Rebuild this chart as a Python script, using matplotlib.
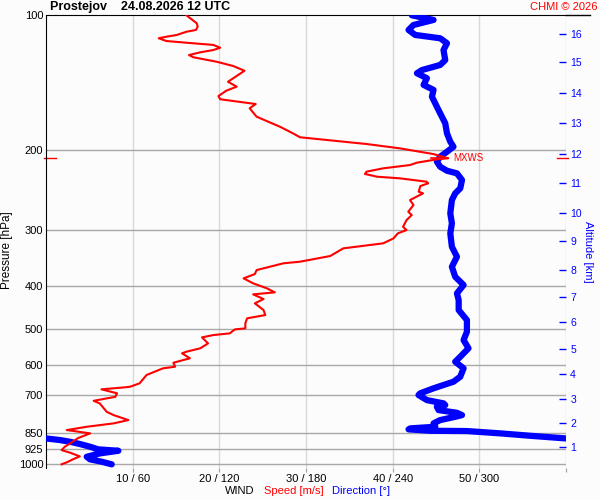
import numpy as np
import matplotlib.pyplot as plt
from matplotlib.lines import Line2D
from matplotlib.ticker import NullLocator

plt.rcParams['font.family'] = ['Liberation Sans', 'DejaVu Sans']

# wind speed profile (pressure hPa, speed m/s)
speed_p = [100.0, 104.2, 106.0, 107.8, 108.8, 110.6, 111.6, 112.5, 114.1, 115.1,
           116.4, 118.1, 119.5, 120.9, 122.6, 124.0, 126.9, 129.7, 132.9, 136.5,
           140.6, 144.2, 147.2, 151.3, 153.8, 155.2, 157.6, 161.1, 168.2, 177.1,
           183.2, 186.9, 193.5, 197.8, 203.7, 208.2, 209.3, 212.9, 215.5, 219.2,
           222.9, 225.6, 228.8, 230.7, 234.7, 236.7, 240.0, 247.1, 249.2, 257.9,
           264.6, 273.8, 278.5, 285.8, 295.8, 300.8, 305.9, 313.9, 322.0, 330.4,
           343.6, 353.8, 356.7, 369.3, 376.9, 385.3, 395.3, 405.6, 414.0, 418.3,
           428.5, 438.0, 453.3, 465.1, 473.0, 485.4, 498.0, 500.6, 510.9, 515.4,
           521.5, 537.8, 551.6, 561.3, 565.9, 580.6, 593.9, 606.2, 611.2, 632.5,
           660.1, 671.7, 673.8, 680.7, 694.8, 707.3, 722.0, 731.6, 763.8, 776.9,
           797.0, 810.6, 824.8, 838.9, 853.2, 874.0, 898.1, 912.9, 929.5, 942.4,
           960.0, 974.8, 989.8, 1000.0]
speed_ms = [16.2, 17.4, 17.5, 17.3, 16.2, 15.1, 13.9, 13.0, 13.9, 16.2,
            19.3, 20.1, 19.3, 17.8, 16.5, 17.0, 19.7, 21.6, 22.9, 22.0,
            21.0, 22.0, 20.8, 19.9, 20.1, 21.6, 24.2, 23.5, 24.3, 27.0,
            28.5, 29.3, 37.0, 40.8, 44.7, 46.4, 45.1, 42.8, 42.0, 38.9,
            37.0, 36.8, 38.2, 40.8, 43.9, 44.1, 43.2, 43.0, 43.5, 42.0,
            42.4, 41.8, 42.2, 41.6, 41.2, 41.6, 40.6, 40.1, 38.9, 34.3,
            32.8, 29.3, 27.4, 24.3, 24.1, 22.8, 23.9, 25.5, 26.4, 23.9,
            25.1, 24.1, 25.1, 25.3, 23.2, 23.0, 23.0, 21.8, 21.2, 19.3,
            18.0, 18.7, 17.8, 16.2, 15.7, 16.6, 14.7, 14.9, 13.5, 11.6,
            10.8, 9.7, 9.1, 6.4, 8.2, 8.0, 5.5, 6.2, 7.0, 7.8,
            9.5, 7.8, 4.7, 2.4, 5.1, 3.7, 2.8, 2.2, 1.8, 2.8,
            3.9, 3.1, 2.4, 1.8]

# wind direction profile (pressure hPa, direction deg)
dir_p = [100.0, 102.4, 105.1, 107.8, 110.6, 112.5, 115.4, 119.5, 125.8, 129.0,
         132.4, 134.6, 138.1, 142.9, 146.6, 151.8, 159.8, 165.3, 174.0, 183.2,
         191.2, 196.2, 201.3, 206.5, 211.8, 217.4, 221.9, 224.9, 232.7, 242.8,
         249.2, 257.9, 276.1, 290.6, 305.9, 327.7, 344.9, 363.1, 382.2, 398.7,
         416.1, 430.7, 453.3, 477.2, 506.8, 528.8, 551.6, 576.0, 590.9, 611.2,
         638.1, 654.7, 677.2, 694.8, 700.9, 719.4, 731.6, 738.0, 744.5, 757.2,
         767.8, 776.9, 783.7, 797.0, 810.6, 824.8, 831.6, 835.9, 841.9, 843.2,
         853.2, 863.8, 875.4, 876.0, 883.0, 890.7, 901.3, 913.8, 926.2, 932.8,
         945.4, 962.0, 974.8, 986.8, 1000.0]
dir_deg = [253.3, 268.3, 254.4, 251.0, 255.6, 272.9, 277.6, 275.2, 276.4, 272.9,
           260.3, 256.8, 263.7, 261.4, 268.3, 267.2, 270.6, 272.9, 276.4, 277.6,
           279.9, 282.1, 277.6, 272.9, 270.6, 272.9, 277.6, 284.5, 288.0, 286.8,
           283.3, 281.0, 279.9, 281.0, 279.9, 281.0, 284.5, 281.0, 283.3, 289.1,
           284.5, 285.7, 285.7, 291.4, 291.4, 289.1, 292.5, 286.8, 283.3, 289.1,
           286.8, 282.1, 268.3, 259.1, 257.9, 263.7, 275.2, 276.4, 270.6, 271.8,
           284.5, 288.0, 283.3, 272.9, 268.3, 269.5, 252.2, 251.0, 266.0, 291.4,
           314.5, 335.3, 359.5, 0.5, 9.7, 16.6, 23.6, 30.5, 36.2, 50.1,
           37.4, 28.2, 30.5, 38.6, 45.5]

p_ticks = [100, 200, 300, 400, 500, 600, 700, 850, 925, 1000]
speed_ticks = [10, 20, 30, 40, 50]
speed_tick_labels = ['10 / 60', '20 / 120', '30 / 180', '40 / 240', '50 / 300']
alt_km = list(range(1, 17))
alt_p = [913.8, 809.1, 716.6, 628.4, 552.7, 482.9, 423.4, 369.3,
         318.7, 275.2, 236.3, 203.4, 174.0, 148.9, 127.3, 110.1]
mxws_p = 208.2
mxws_speed = 46.4

RED = '#ff0000'
BLUE = '#0000ff'

fig = plt.figure(figsize=(6, 5), dpi=100, facecolor='#fcfcfc')
ax = fig.add_axes([46 / 600, 1 - 468 / 500, (566 - 46) / 600, (468 - 15.3) / 500])
ax.set_facecolor('#fcfcfc')

ax.set_yscale('log')
ax.set_ylim(1019, 100)
ax.set_xlim(0, 60)
ax.yaxis.set_minor_locator(NullLocator())
ax.set_yticks(p_ticks)
ax.set_yticklabels([str(p) for p in p_ticks])
ax.set_xticks(speed_ticks + [60])
ax.set_xticklabels(speed_tick_labels + [''])
ax.tick_params(axis='y', length=0, pad=2, labelsize=8)
ax.tick_params(axis='x', length=3, color='#a0a0a0', pad=1.5, labelsize=8)

for p in p_ticks[1:]:
    ax.axhline(p, color='#a8a8a8', lw=1, zorder=1)
for s in speed_ticks + [60]:
    ax.axvline(s, color='#d8d8d8', lw=1, zorder=0.5)

for side in ['right', 'bottom']:
    ax.spines[side].set_visible(False)
ax.spines['left'].set_color('black')
ax.spines['top'].set_color('black')
fig.add_artist(Line2D([566 / 600, 590 / 600], [1 - 15.3 / 500] * 2, color='black', lw=1))

# direction drawn on the speed scale (360 deg = 60 m/s), wrapped at 360
d = np.degrees(np.unwrap(np.radians(dir_deg)))
for shift in (0, 360):
    ax.plot((d - shift) / 6.0, dir_p, color=BLUE, lw=4.5,
            solid_capstyle='round', solid_joinstyle='round', zorder=3)
ax.plot(speed_ms, speed_p, color=RED, lw=1.5, zorder=4)

# maximum wind marker
ax.plot([mxws_speed - 2, mxws_speed], [mxws_p, mxws_p], color=RED, lw=1.2, zorder=5)
ax.text(mxws_speed + 0.6, mxws_p, 'MXWS', color=RED, fontsize=7, va='center', ha='left')
ax.plot([-0.2, 1.2], [mxws_p, mxws_p], color=RED, lw=1, clip_on=False)
ax.plot([59.0, 60.2], [mxws_p, mxws_p], color=RED, lw=1, clip_on=False)

# altitude axis
ax2 = ax.twinx()
ax2.set_yscale('log')
ax2.set_ylim(1019, 100)
ax2.yaxis.set_minor_locator(NullLocator())
ax2.set_yticks(alt_p)
ax2.set_yticklabels([str(k) for k in alt_km])
ax2.tick_params(axis='y', direction='in', length=5, width=1, color=BLUE,
                labelcolor=BLUE, labelsize=7.5, pad=3)
for side in ax2.spines:
    ax2.spines[side].set_visible(False)

fig.text(7 / 600, 1 - 250 / 500, 'Pressure [hPa]', rotation=90, fontsize=8.5,
         ha='center', va='center')
fig.text(588 / 600, 1 - 252 / 500, 'Altitude [km]', rotation=270, color=BLUE,
         fontsize=8, ha='center', va='center')

fig.text(50 / 600, 1 - 7 / 500, 'Prostejov    24.08.2026 12 UTC', fontsize=9,
         fontweight='bold', ha='left', va='center')
fig.text(597 / 600, 1 - 7 / 500, 'CHMI © 2026', fontsize=8, color=RED,
         ha='right', va='center')

fig.text(225 / 600, 1 - 491 / 500, 'WIND', fontsize=8, ha='left', va='center')
fig.text(264 / 600, 1 - 491 / 500, 'Speed [m/s]', fontsize=8, color=RED, ha='left', va='center')
fig.text(332 / 600, 1 - 491 / 500, 'Direction [°]', fontsize=8, color=BLUE, ha='left', va='center')

fig.savefig('out.png', dpi=100, facecolor=fig.get_facecolor())
